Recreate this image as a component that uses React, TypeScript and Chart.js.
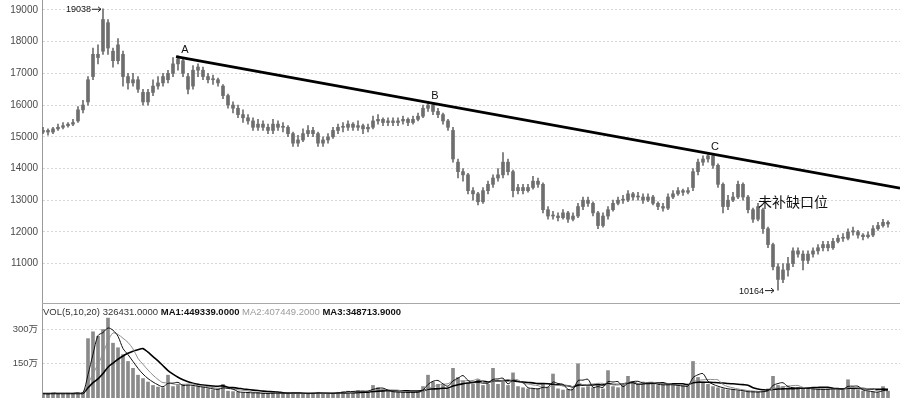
import React, { useEffect, useRef } from "react";
import { Chart, registerables } from "chart.js";

Chart.register(...registerables);

// ---- price candles (one candle per sampled period) ----
const opens = [
  15150, 15200, 15150, 15250, 15300, 15350, 15400, 15500, 15850, 16100,
  16900, 17600, 17700, 18600, 17700, 17400, 17600, 16900, 16700, 16800,
  16400, 16100, 16400, 16600, 16700, 16800, 17000, 17300, 17400, 16900,
  16600, 17100, 17100, 16900, 16800, 16800, 16600, 16300, 16000, 15900,
  15700, 15600, 15500, 15300, 15400, 15300, 15200, 15400, 15300, 15300,
  15100, 14800, 14900, 15100, 15200, 15100, 14800, 14900, 15000, 15200,
  15300, 15300, 15400, 15300, 15350, 15250, 15300, 15500, 15550, 15450,
  15500, 15450, 15500, 15550, 15450, 15550, 15650, 15900, 16000, 15800,
  15700, 15500, 15200, 14200, 13900, 13800, 13300, 13200, 12950, 13300,
  13500, 13700, 13800, 14200, 13900, 13300, 13400, 13300, 13400, 13600,
  13500, 12700, 12500, 12500, 12450, 12600, 12400, 12500, 12800, 13000,
  12900, 12600, 12200, 12500, 12700, 12900, 13000, 13000, 13200, 13100,
  13100, 13000, 13100, 12900, 12800, 12750, 13100, 13200, 13300, 13250,
  13400, 13900, 14200, 14300, 14400, 14100, 13500, 12800, 13000, 13100,
  13500, 13100, 12700, 12400, 12700, 12100, 11600, 10900, 10500, 10800,
  11000, 11400, 11300, 11100, 11300, 11400, 11500, 11600, 11500, 11700,
  11800, 11800, 12000, 12000, 11900, 11850, 11900, 12100, 12200, 12300,
];
const closes = [
  15200, 15150, 15250, 15300, 15350, 15400, 15450, 15850, 16000, 16800,
  17600, 17500, 18700, 17800, 17400, 17900, 16900, 16700, 16800, 16500,
  16100, 16400, 16600, 16700, 16900, 17000, 17300, 17450, 17000, 16500,
  17100, 17200, 16900, 16800, 16800, 16700, 16300, 16000, 15900, 15700,
  15600, 15500, 15300, 15400, 15300, 15200, 15400, 15300, 15300, 15100,
  14800, 14900, 15100, 15200, 15100, 14800, 14900, 15000, 15200, 15300,
  15300, 15400, 15300, 15350, 15250, 15300, 15500, 15550, 15450, 15500,
  15450, 15500, 15550, 15450, 15550, 15650, 15900, 16000, 15800, 15700,
  15500, 15300, 14300, 13900, 13800, 13300, 13200, 12950, 13300, 13500,
  13700, 13800, 14200, 13900, 13300, 13400, 13300, 13400, 13600, 13500,
  12700, 12500, 12500, 12450, 12600, 12400, 12500, 12800, 13000, 12900,
  12600, 12200, 12500, 12700, 12900, 13000, 13000, 13200, 13100, 13100,
  13000, 13100, 12900, 12800, 12750, 13100, 13200, 13300, 13250, 13300,
  13900, 14200, 14300, 14400, 14100, 13500, 12800, 13000, 13100, 13500,
  13100, 12700, 12400, 12800, 12100, 11600, 10900, 10500, 10800, 11000,
  11400, 11300, 11100, 11300, 11400, 11500, 11600, 11500, 11700, 11800,
  11800, 12000, 12000, 11900, 11850, 11900, 12100, 12200, 12300, 12250,
];
const highs = [
  15300, 15250, 15300, 15400, 15450, 15450, 15550, 15950, 16150, 16900,
  17800, 17900, 19038, 18700, 17800, 18100, 17700, 17000, 17000, 16900,
  16500, 16500, 16800, 16900, 17000, 17100, 17500, 17550, 17450, 17000,
  17250, 17300, 17200, 17000, 16950, 16850, 16650, 16350, 16100, 16000,
  15850, 15700, 15600, 15550, 15500, 15400, 15550, 15500, 15450, 15350,
  15150, 15050, 15250, 15350, 15300, 15150, 15000, 15100, 15300, 15400,
  15450, 15500, 15450, 15500, 15400, 15400, 15650, 15700, 15600, 15600,
  15600, 15600, 15650, 15600, 15650, 15750, 16000, 16100, 16050, 15900,
  15750, 15550, 15300, 14300, 14000, 13850, 13400, 13250, 13400, 13600,
  13800, 14000, 14500, 14300, 13950, 13500, 13500, 13500, 13750, 13700,
  13550, 12800, 12650, 12600, 12700, 12650, 12600, 12900, 13100, 13100,
  12950, 12650, 12600, 12800, 13000, 13100, 13150, 13300, 13250, 13250,
  13200, 13200, 13150, 12950, 12900, 13200, 13300, 13400, 13350, 13400,
  14000, 14300, 14400, 14500, 14450, 14150, 13550, 13150, 13250, 13600,
  13550, 13150, 12750, 12900, 12750, 12150, 11650, 11000, 11000, 11200,
  11500, 11500, 11400, 11400, 11500, 11600, 11700, 11700, 11800, 11900,
  11950, 12100, 12150, 12050, 11950, 12000, 12200, 12300, 12400, 12350,
];
const lows = [
  15100, 15050, 15100, 15200, 15250, 15300, 15350, 15450, 15750, 16000,
  16800, 17300, 17600, 17600, 17200, 17300, 16600, 16500, 16600, 16400,
  16000, 16000, 16300, 16500, 16600, 16700, 16900, 17100, 16900, 16350,
  16500, 16900, 16800, 16700, 16650, 16600, 16200, 15900, 15750, 15600,
  15450, 15400, 15200, 15200, 15200, 15100, 15100, 15200, 15150, 15000,
  14700, 14700, 14850, 15000, 15000, 14700, 14700, 14800, 14950, 15100,
  15150, 15200, 15200, 15200, 15100, 15150, 15250, 15400, 15350, 15350,
  15350, 15350, 15400, 15350, 15400, 15500, 15600, 15800, 15700, 15600,
  15400, 15200, 14200, 13700, 13600, 13200, 13000, 12850, 12900, 13200,
  13400, 13600, 13700, 13800, 13100, 13200, 13200, 13250, 13350, 13400,
  12600, 12400, 12400, 12350, 12400, 12300, 12350, 12450, 12700, 12800,
  12500, 12100, 12150, 12400, 12650, 12850, 12900, 12950, 13000, 13000,
  12900, 12950, 12850, 12700, 12650, 12700, 13050, 13150, 13150, 13200,
  13300, 13800, 14100, 14200, 14000, 13400, 12600, 12700, 12950, 13050,
  13000, 12600, 12300, 12350, 11950, 11500, 10800, 10164, 10400, 10600,
  10900, 11200, 10800, 11000, 11200, 11300, 11400, 11400, 11450, 11650,
  11700, 11750, 11900, 11800, 11750, 11800, 11850, 12050, 12150, 12150,
];

// ---- volume (万) ----
const volumes = [
  20, 18, 22, 20, 19, 21, 20, 22, 25, 260,
  290, 270, 300, 350, 240, 220, 190, 160, 130, 100,
  85, 70, 55, 48, 45, 100, 50, 55, 60, 55,
  50, 48, 45, 40, 35, 38, 60, 30, 28, 25,
  22, 25, 20, 22, 18, 20, 24, 20, 18, 22,
  25, 20, 18, 20, 22, 25, 18, 20, 22, 25,
  28, 30, 28, 32, 30, 28, 55, 45, 30, 28,
  25, 24, 26, 22, 25, 28, 50, 100, 70, 60,
  55, 40, 130, 90, 75, 65, 60, 80, 55, 60,
  130, 60, 70, 55, 110, 50, 45, 40, 42, 38,
  60, 45, 105, 40, 35, 38, 40, 150, 45, 50,
  45, 55, 40, 120, 50, 45, 55, 95, 65, 60,
  70, 65, 60, 55, 58, 60, 55, 50, 52, 55,
  160, 90, 70, 60, 50, 45, 40, 35, 38, 30,
  28, 25, 28, 25, 30, 40, 95, 55, 50, 45,
  40, 45, 42, 38, 40, 35, 38, 40, 42, 38,
  35, 80, 40, 35, 30, 28, 25, 22, 50, 30,
];

// moving-average windows in sampled candles (5/10/20 days at this sampling)
const maWindows = [3, 6, 12];
const maColors = ["#111111", "#8c8c8c", "#000000"];
const maWidths = [1, 1, 1.6];

const priceTicks = [11000, 12000, 13000, 14000, 15000, 16000, 17000, 18000, 19000];
const volumeTicks = [150, 300];

const trendX = [26.6, 171.4];
const trendY = [17530, 13380];

const markLabels = ["A", "B", "C"];
const markIndex = [27, 77, 133];
const gapLabel = "未补缺口位";
const gapIndex = 143;
const gapPrice = 13000;

const volTitle = [
  { text: "VOL(5,10,20) 326431.0000 ", bold: false, color: "#333" },
  { text: "MA1:449339.0000 ", bold: true, color: "#111" },
  { text: "MA2:407449.2000 ", bold: false, color: "#9a9a9a" },
  { text: "MA3:348713.9000", bold: true, color: "#111" },
];

const X_MIN = -0.2;
const X_MAX = 171.4;
const FONT = '"Liberation Sans", "Noto Sans CJK SC", sans-serif';
const CANDLE = "#6e6e6e";

function movingAverage(arr: number[], w: number) {
  return arr.map((_, i) => {
    const s = Math.max(0, i - w + 1);
    let sum = 0;
    for (let k = s; k <= i; k++) sum += arr[k];
    return sum / (i - s + 1);
  });
}

function arrowLabel(ctx: CanvasRenderingContext2D, px: number, py: number, text: string) {
  ctx.font = `9px ${FONT}`;
  ctx.fillStyle = "#111";
  ctx.textAlign = "right";
  ctx.textBaseline = "middle";
  ctx.fillText(text, px - 12, py + 1);
  ctx.strokeStyle = "#222";
  ctx.lineWidth = 1;
  ctx.beginPath();
  ctx.moveTo(px - 11, py + 0.5);
  ctx.lineTo(px - 2, py + 0.5);
  ctx.stroke();
  ctx.beginPath();
  ctx.moveTo(px - 5, py - 2);
  ctx.lineTo(px - 2, py + 0.5);
  ctx.lineTo(px - 5, py + 3);
  ctx.stroke();
}

const priceAnnotations = {
  id: "priceAnnotations",
  afterDatasetsDraw(chart: any) {
    const { ctx, scales } = chart;
    const x = scales.x;
    const y = scales.y;
    ctx.save();
    const hi = Math.max(...highs);
    const hiI = highs.indexOf(hi);
    arrowLabel(ctx, x.getPixelForValue(hiI), y.getPixelForValue(hi), String(hi));
    const lo = Math.min(...lows);
    const loI = lows.indexOf(lo);
    arrowLabel(ctx, x.getPixelForValue(loI) - 2, y.getPixelForValue(lo), String(lo));

    ctx.font = `11px ${FONT}`;
    ctx.fillStyle = "#111";
    ctx.textAlign = "center";
    ctx.textBaseline = "middle";
    markLabels.forEach((t, k) => {
      const i = markIndex[k];
      ctx.fillText(t, x.getPixelForValue(i) + 7, y.getPixelForValue(highs[i]) - 6);
    });

    ctx.font = `14px "Noto Sans CJK SC", sans-serif`;
    ctx.textAlign = "left";
    ctx.fillText(gapLabel, x.getPixelForValue(gapIndex), y.getPixelForValue(gapPrice) + 1);
    ctx.restore();
  },
};

const volumeAnnotations = {
  id: "volumeAnnotations",
  afterDraw(chart: any) {
    const { ctx, chartArea } = chart;
    ctx.save();
    ctx.strokeStyle = "#a8a8a8";
    ctx.lineWidth = 1;
    ctx.beginPath();
    ctx.moveTo(chartArea.left, 0.5);
    ctx.lineTo(chartArea.right, 0.5);
    ctx.stroke();
    let xx = chartArea.left + 1;
    ctx.textBaseline = "middle";
    ctx.textAlign = "left";
    volTitle.forEach((p) => {
      ctx.font = `${p.bold ? "bold " : ""}9.5px ${FONT}`;
      ctx.fillStyle = p.color;
      ctx.fillText(p.text, xx, 9);
      xx += ctx.measureText(p.text).width;
    });
    ctx.restore();
  },
};

const fitLeft = (s: any) => {
  s.width = 42;
  s.paddingTop = 0;
  s.paddingBottom = 0;
};

export default function App() {
  const priceRef = useRef<HTMLCanvasElement>(null);
  const volRef = useRef<HTMLCanvasElement>(null);

  useEffect(() => {
    document.body.style.margin = "0";
    const idx = closes.map((_, i) => i);
    const price = new Chart(priceRef.current as HTMLCanvasElement, {
      type: "bar",
      data: {
        datasets: [
          {
            type: "line",
            data: trendX.map((x, i) => ({ x, y: trendY[i] })),
            borderColor: "#000",
            borderWidth: 2.8,
            pointRadius: 0,
            order: 0,
          } as any,
          {
            type: "bar",
            data: idx.map((i) => ({ x: i, y: [lows[i], highs[i]] })),
            backgroundColor: CANDLE,
            barThickness: 1,
            grouped: false,
            order: 2,
          } as any,
          {
            type: "bar",
            data: idx.map((i) => ({ x: i, y: [opens[i], closes[i]] })),
            backgroundColor: CANDLE,
            barThickness: 3,
            minBarLength: 1,
            grouped: false,
            order: 1,
          } as any,
        ],
      },
      options: {
        responsive: false,
        animation: false,
        devicePixelRatio: 1,
        layout: { padding: 0 },
        plugins: { legend: { display: false }, tooltip: { enabled: false } },
        scales: {
          x: { type: "linear", min: X_MIN, max: X_MAX, display: false, offset: false },
          y: {
            min: 9757,
            max: 19315,
            afterFit: fitLeft,
            afterBuildTicks: (s: any) => {
              s.ticks = priceTicks.map((v) => ({ value: v }));
            },
            ticks: {
              font: { family: FONT, size: 10 },
              color: "#4a4a4a",
              padding: 4,
              callback: (v: any) => String(v),
            },
            grid: { color: "#d6d6d6", drawTicks: false },
            border: { display: true, color: "#9a9a9a", dash: [2, 2] },
          },
        },
      } as any,
      plugins: [priceAnnotations],
    });

    const volChart = new Chart(volRef.current as HTMLCanvasElement, {
      type: "bar",
      data: {
        datasets: [
          ...maWindows.map(
            (w, k) =>
              ({
                type: "line",
                data: movingAverage(volumes, w).map((v, i) => ({ x: i, y: v })),
                borderColor: maColors[k],
                borderWidth: maWidths[k],
                pointRadius: 0,
                tension: 0.3,
                order: 0,
              }) as any
          ),
          {
            type: "bar",
            data: volumes.map((v, i) => ({ x: i, y: v })),
            backgroundColor: "#8a8a8a",
            barThickness: 3,
            grouped: false,
            order: 1,
          } as any,
        ],
      },
      options: {
        responsive: false,
        animation: false,
        devicePixelRatio: 1,
        layout: { padding: 0 },
        plugins: { legend: { display: false }, tooltip: { enabled: false } },
        scales: {
          x: { type: "linear", min: X_MIN, max: X_MAX, display: false, offset: false },
          y: {
            min: 0,
            max: 416,
            afterFit: fitLeft,
            afterBuildTicks: (s: any) => {
              s.ticks = volumeTicks.map((v) => ({ value: v }));
            },
            ticks: {
              font: { family: FONT, size: 9.5 },
              color: "#4a4a4a",
              padding: 4,
              callback: (v: any) => `${v}万`,
            },
            grid: { color: "#d6d6d6", drawTicks: false },
            border: { display: true, color: "#9a9a9a", dash: [2, 2] },
          },
        },
      } as any,
      plugins: [volumeAnnotations],
    });

    return () => {
      price.destroy();
      volChart.destroy();
    };
  }, []);

  return (
    <div style={{ width: 900, height: 398, background: "#fff" }}>
      <canvas ref={priceRef} width={900} height={303} style={{ display: "block" }} />
      <canvas ref={volRef} width={900} height={95} style={{ display: "block" }} />
    </div>
  );
}
